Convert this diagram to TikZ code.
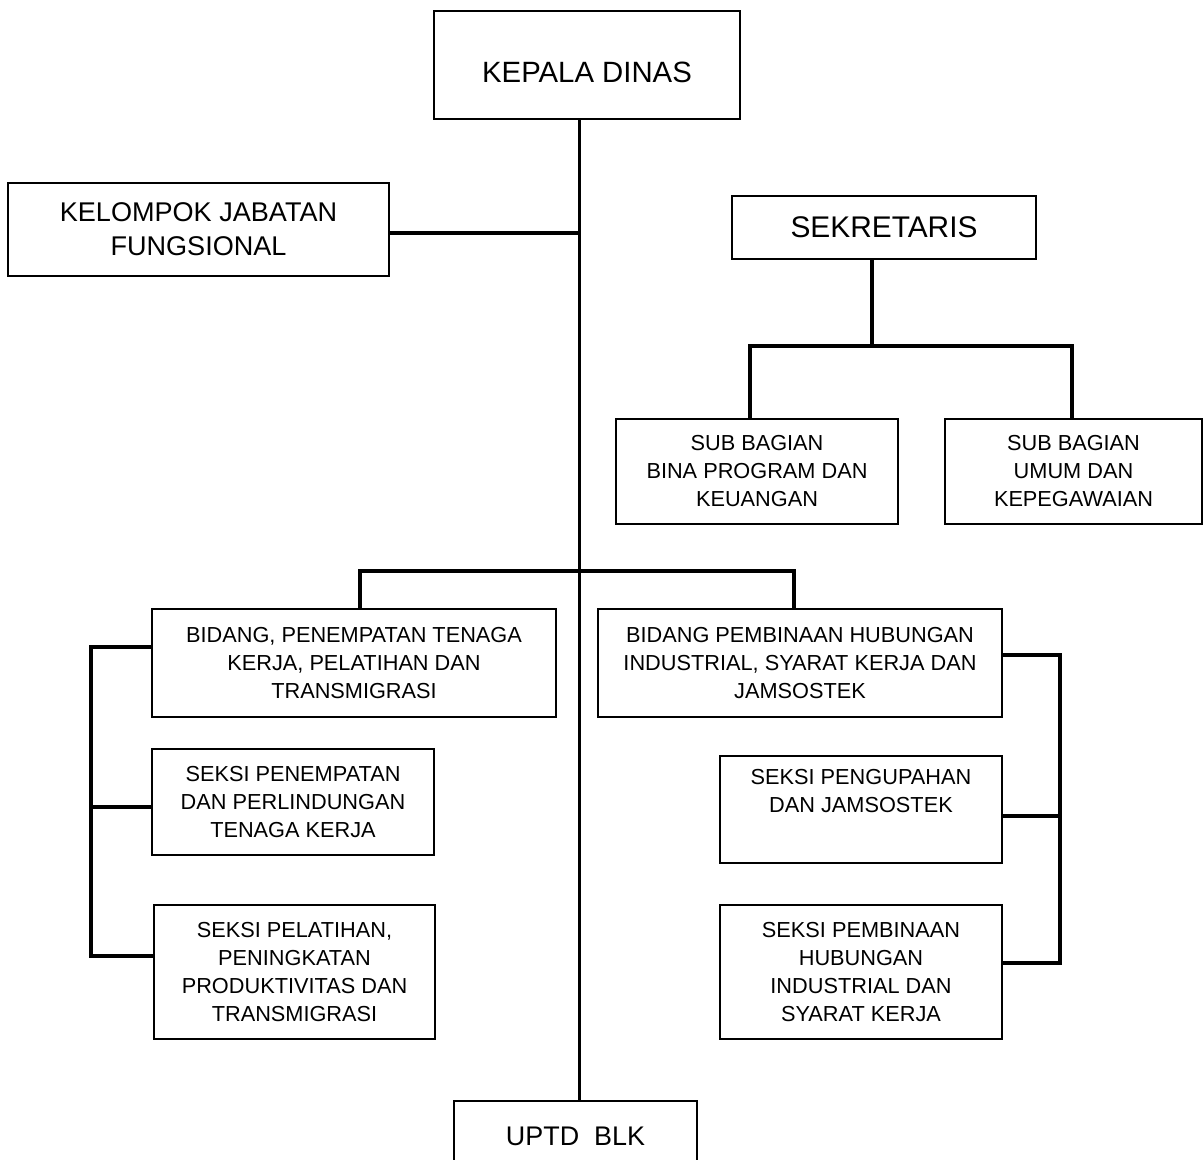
\documentclass[tikz,border=0pt]{standalone}
\usepackage{fontspec}
\setmainfont{Liberation Sans}
\begin{document}
\begin{tikzpicture}[x=0.75pt,y=-0.75pt,
  box/.style={draw=black,line width=1.5pt,rectangle,inner sep=0pt,align=center,fill=white},
  conn/.style={draw=black,line width=2.4pt},
  big/.style={font=\fontsize{22}{26}\selectfont},
  mid/.style={font=\fontsize{20.3}{25.5}\selectfont},
  small/.style={font=\fontsize{16.3}{21}\selectfont}]
\useasboundingbox (0,0) rectangle (1204,1160);
\clip (0,0) rectangle (1204,1160);

% nodes
\node[box,minimum width=229.5pt,minimum height=81pt] (kd) at (587,65) {};
\node[big,inner sep=0pt] (kdt) at (587,72) {KEPALA DINAS};
\node[box,mid,minimum width=285.75pt,minimum height=69.75pt] (kel) at (198.5,229.5) {KELOMPOK JABATAN\\FUNGSIONAL};
\node[box,font=\fontsize{22.4}{26}\selectfont,minimum width=228pt,minimum height=47.25pt] (sek) at (884,227.5) {SEKRETARIS};
\node[box,small,minimum width=211.5pt,minimum height=78.75pt] (sb1) at (757,471.5) {SUB BAGIAN\\BINA PROGRAM DAN\\KEUANGAN};
\node[box,small,minimum width=192.75pt,minimum height=78.75pt] (sb2) at (1073.5,471.5) {SUB BAGIAN\\UMUM DAN\\KEPEGAWAIAN};
\node[box,small,minimum width=303pt,minimum height=81pt] (b1) at (354,663) {BIDANG, PENEMPATAN TENAGA\\KERJA, PELATIHAN DAN\\TRANSMIGRASI};
\node[box,small,minimum width=211.5pt,minimum height=79.5pt] (s1) at (293,802) {SEKSI PENEMPATAN\\DAN PERLINDUNGAN\\TENAGA KERJA};
\node[box,small,minimum width=210.75pt,minimum height=100.5pt] (s2) at (294.5,972) {SEKSI PELATIHAN,\\PENINGKATAN\\PRODUKTIVITAS DAN\\TRANSMIGRASI};
\node[box,small,minimum width=303pt,minimum height=81pt] (b2) at (800,663) {BIDANG PEMBINAAN HUBUNGAN\\INDUSTRIAL, SYARAT KERJA DAN\\JAMSOSTEK};
\node[box,minimum width=211.5pt,minimum height=80.25pt] (s3) at (861,809.5) {};
\node[small,align=center,inner sep=0pt] (s3t) at (861,791) {SEKSI PENGUPAHAN\\DAN JAMSOSTEK};
\node[box,small,minimum width=211.5pt,minimum height=100.5pt] (s4) at (861,972) {SEKSI PEMBINAAN\\HUBUNGAN\\INDUSTRIAL DAN\\SYARAT KERJA};
\node[box,minimum width=182.25pt,minimum height=52.5pt] (up) at (575.5,1136) {};
\node[font=\fontsize{20.2}{24}\selectfont,inner sep=0pt] (upt) at (575.5,1136) {UPTD\ \ BLK};

% helper coordinates
\coordinate (kj) at (579.5,233);
\coordinate (sj) at (872,346);
\coordinate (mj) at (579.5,571);
\coordinate (b1w) at ([yshift=12pt]b1.west);
\coordinate (s1w) at ([yshift=-3.75pt]s1.west);
\coordinate (s2w) at ([yshift=12pt]s2.west);
\coordinate (lx) at (91,0);
\coordinate (b2e) at ([yshift=6pt]b2.east);
\coordinate (s3e) at ([yshift=-4.9pt]s3.east);
\coordinate (s4e) at ([yshift=6.75pt]s4.east);
\coordinate (rx) at (1060,0);

% connectors
\draw[conn] (kd.south -| kj) -- (up.north -| kj);
\draw[conn] (kel.east |- kj) -- (kj);
\draw[conn] (sek.south -| sj) -- (sj);
\draw[conn] ([xshift=-5.25pt]sb1.north) |- (sj) -| ([xshift=-1.2pt]sb2.north);
\draw[conn] ([xshift=4.5pt]b1.north) |- (mj) -| ([xshift=-4.5pt]b2.north);
\draw[conn] (b1w) -- (b1w -| lx) -- (s2w -| lx) -- (s2w);
\draw[conn] (s1w -| lx) -- (s1w);
\draw[conn] (b2e) -- (b2e -| rx) -- (s4e -| rx) -- (s4e);
\draw[conn] (s3e -| rx) -- (s3e);
\end{tikzpicture}
\end{document}
